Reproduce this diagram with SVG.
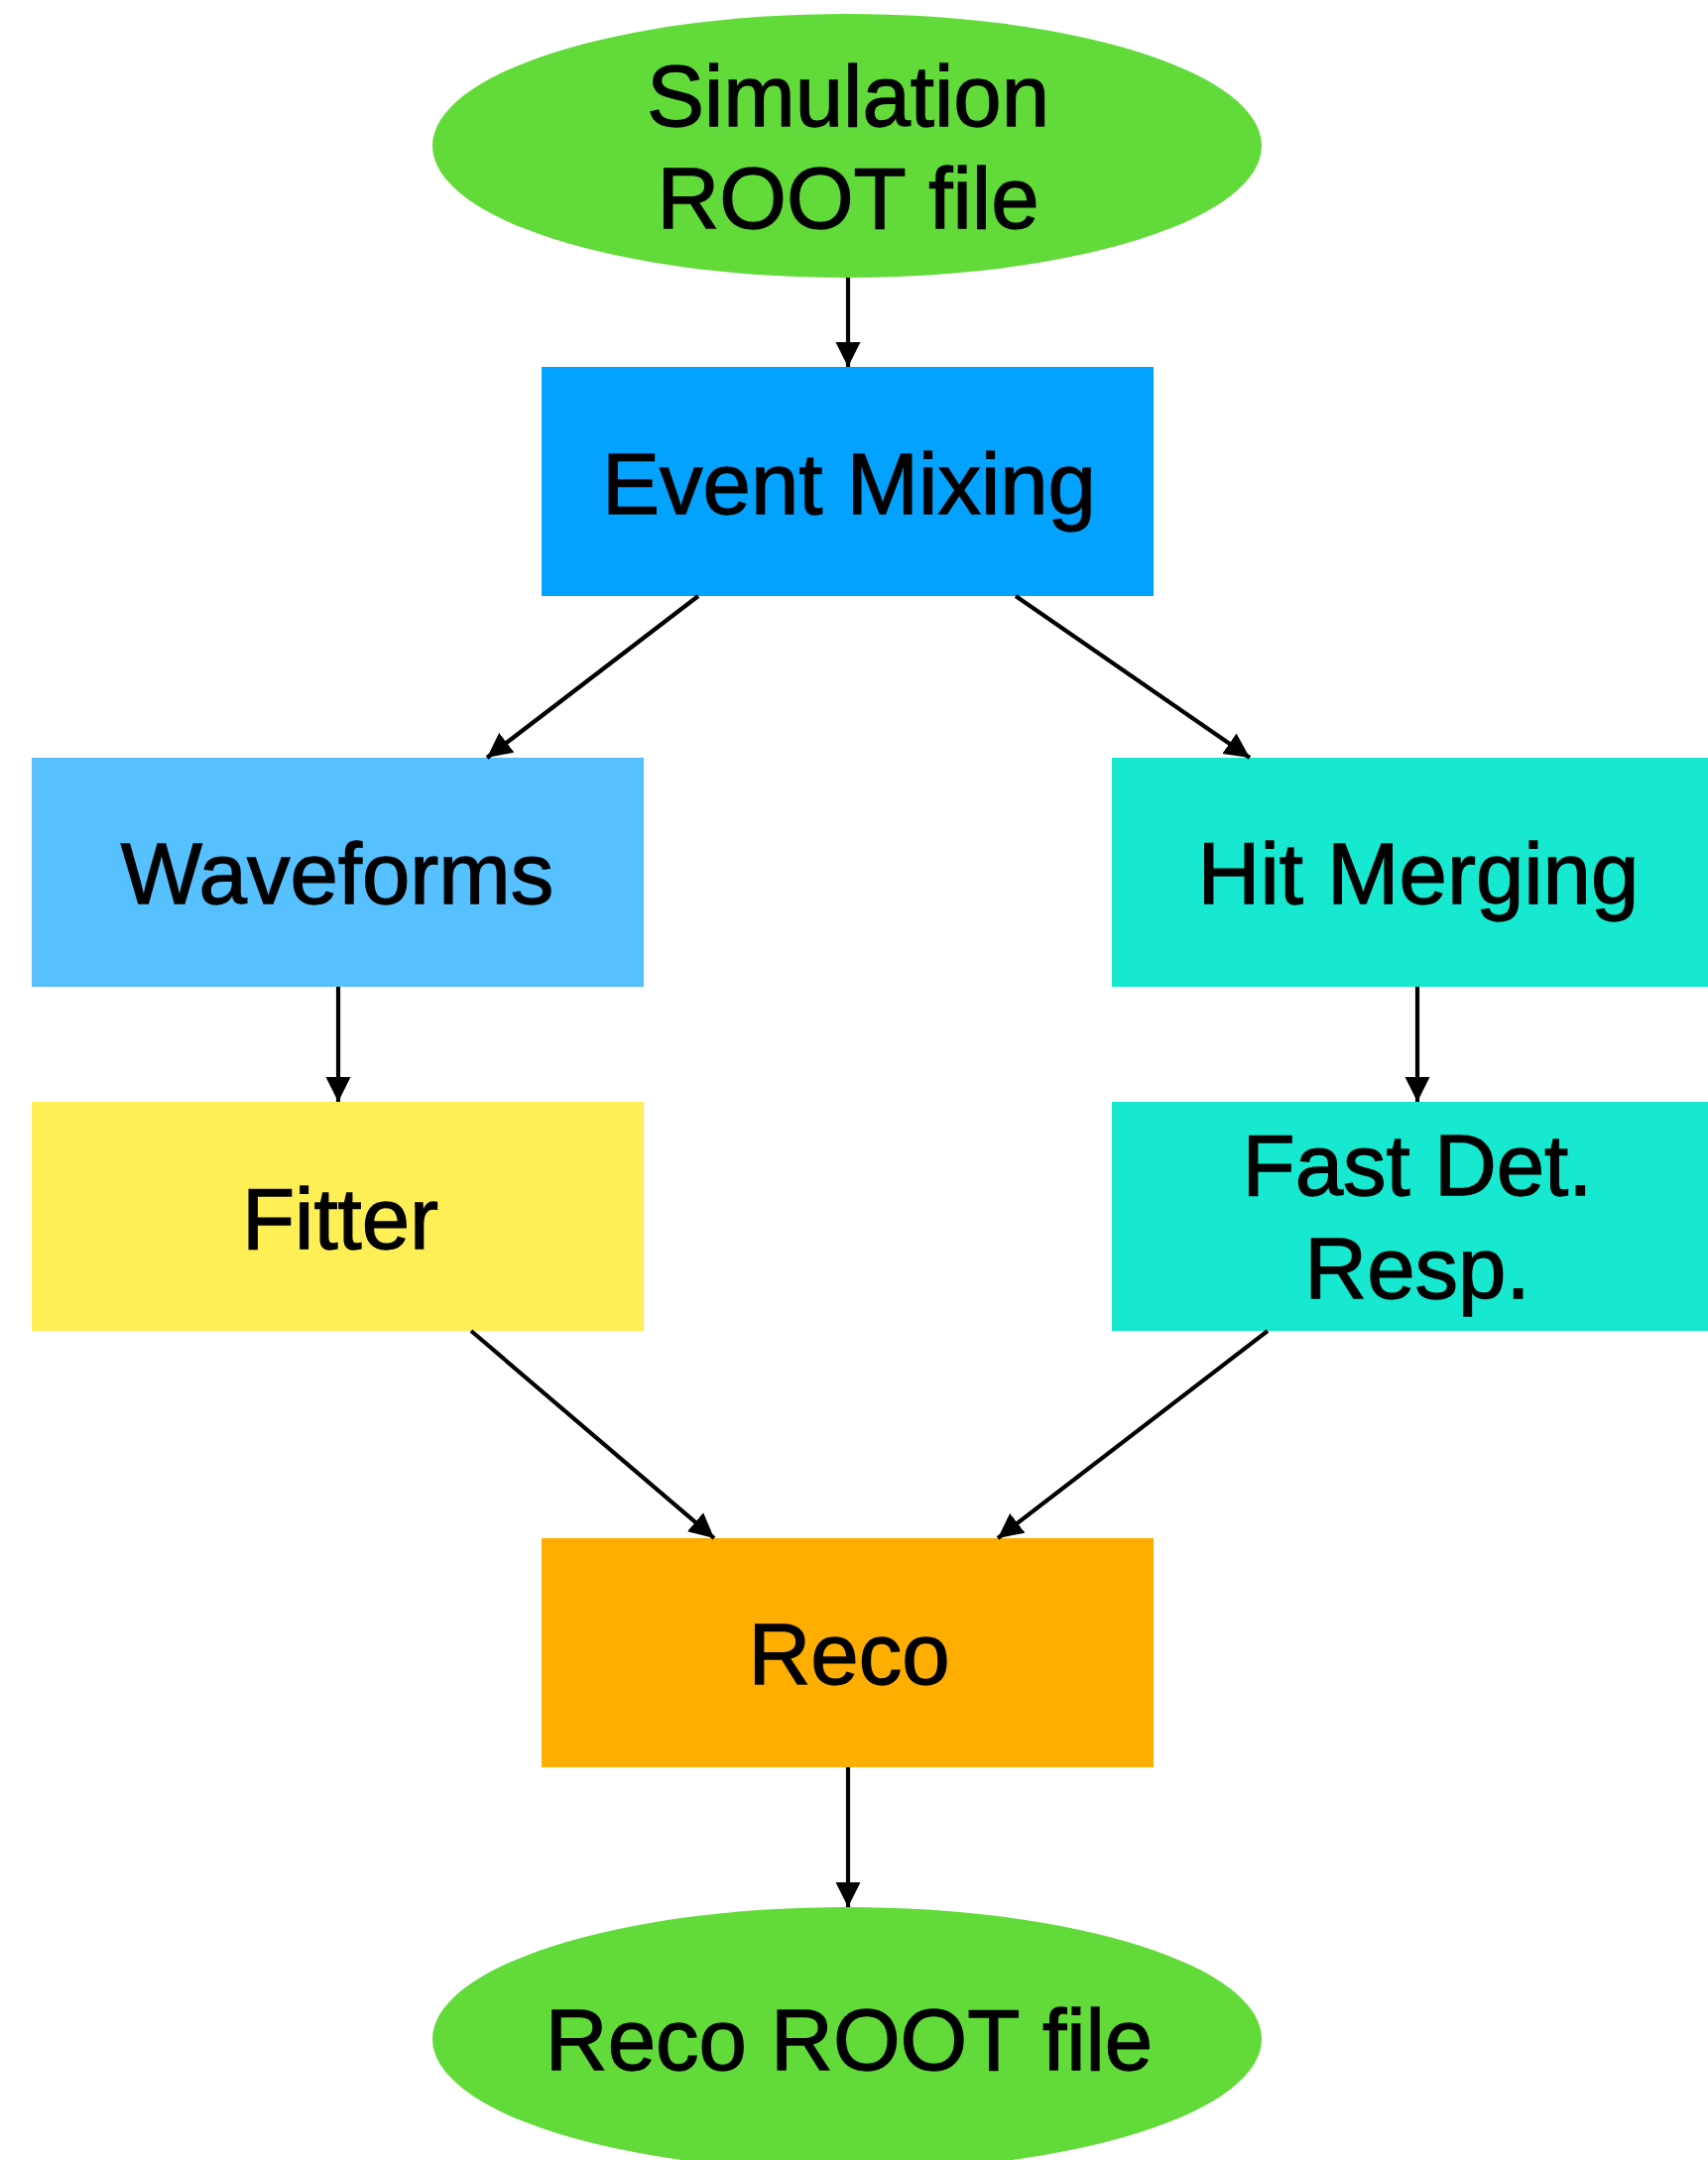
<svg xmlns="http://www.w3.org/2000/svg" width="1722" height="2178" viewBox="0 0 1722 2178">
  <style>
    .lbl { font-family: "Liberation Sans", Arial, Helvetica, sans-serif; font-size: 87px; fill: #000; stroke: #000; stroke-width: 1.3; text-anchor: middle; }
    .edge { stroke: #000; stroke-width: 4.2; fill: none; marker-end: url(#arrow); }
  </style>
  <defs>
    <marker id="arrow" markerUnits="userSpaceOnUse" markerWidth="26" markerHeight="26" viewBox="0 0 26 26" refX="25" refY="13" orient="auto">
      <path d="M0,0.5 L25,13 L0,25.5 Z" fill="#000"/>
    </marker>
  </defs>
  <rect width="1722" height="2178" fill="#fff"/>

  <g id="sim-root">
    <ellipse cx="854" cy="147" rx="418" ry="133" fill="#62DA3A"/>
    <text class="lbl" x="855" y="127">Simulation</text>
    <text class="lbl" x="855" y="230">ROOT file</text>
  </g>

  <g id="event-mixing">
    <rect x="546" y="370" width="617" height="231" fill="#03A2FF"/>
    <text class="lbl" x="856" y="518">Event Mixing</text>
  </g>

  <g id="waveforms">
    <rect x="32" y="764" width="617" height="231" fill="#57C0FF"/>
    <text class="lbl" x="340" y="911">Waveforms</text>
  </g>

  <g id="hit-merging">
    <rect x="1121" y="764" width="617" height="231" fill="#17E8D0"/>
    <text class="lbl" x="1430" y="911">Hit Merging</text>
  </g>

  <g id="fitter">
    <rect x="32" y="1111" width="617" height="231" fill="#FFEF56"/>
    <text class="lbl" x="343" y="1259">Fitter</text>
  </g>

  <g id="fast-det-resp">
    <rect x="1121" y="1111" width="617" height="231" fill="#17E8D0"/>
    <text class="lbl" x="1429" y="1205">Fast Det.</text>
    <text class="lbl" x="1429" y="1309">Resp.</text>
  </g>

  <g id="reco">
    <rect x="546" y="1551" width="617" height="231" fill="#FDAE00"/>
    <text class="lbl" x="856" y="1698">Reco</text>
  </g>

  <g id="reco-root">
    <ellipse cx="854" cy="2056" rx="418" ry="133" fill="#62DA3A"/>
    <text class="lbl" x="856" y="2087">Reco ROOT file</text>
  </g>

  <g id="connectors">
    <line class="edge" x1="855" y1="280" x2="855" y2="370"/>
    <line class="edge" x1="704" y1="601" x2="491" y2="764"/>
    <line class="edge" x1="1024" y1="601" x2="1260" y2="764"/>
    <line class="edge" x1="341" y1="995" x2="341" y2="1111"/>
    <line class="edge" x1="1429" y1="995" x2="1429" y2="1111"/>
    <line class="edge" x1="475" y1="1342" x2="720" y2="1551"/>
    <line class="edge" x1="1278" y1="1342" x2="1006" y2="1551"/>
    <line class="edge" x1="855" y1="1782" x2="855" y2="1923"/>
  </g>
</svg>
